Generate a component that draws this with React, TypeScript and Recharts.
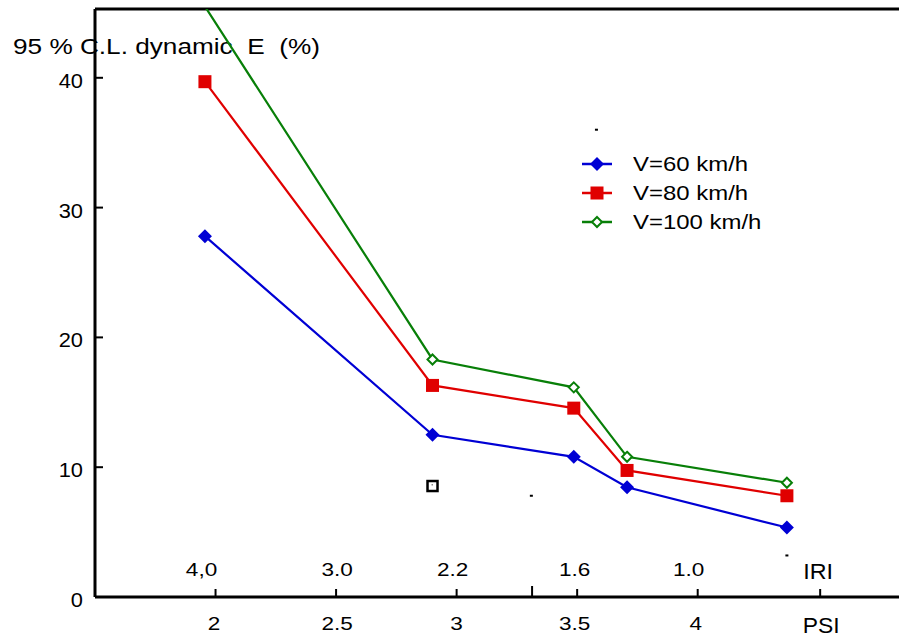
import {
  ComposedChart,
  Line,
  Scatter,
  XAxis,
  YAxis,
  ReferenceLine,
  Legend,
} from "recharts";

// PSI position of each measured point, and the 95 % C.L. dynamic E (%) per speed
const PSI = [1.956, 2.9, 3.486, 3.707, 4.37];
const E_60 = [27.8, 12.5, 10.8, 8.45, 5.35];
const E_80 = [39.7, 16.3, 14.55, 9.75, 7.8];
const E_100 = [45.5, 18.3, 16.15, 10.8, 8.8];

// x axis: PSI ticks below, matching IRI values written above the axis
const PSI_TICKS = [2, 2.5, 3, 3.313, 3.5, 4, 4.508];
const PSI_LABELS = ["2", "2.5", "3", "", "3.5", "4", "PSI"];
const IRI_LABELS = ["4,0", "3.0", "2.2", "", "1.6", "1.0", "IRI"];
const E_TICKS = [0, 10, 20, 30, 40];

// stray marks left in the original scan
const BOX_PSI = [2.9];
const BOX_E = [8.55];
const SPECK_PSI = [3.58, 3.31, 4.37];
const SPECK_E = [36.0, 7.8, 3.2];

const E_MAX = 45.3;
const FONT = "'Liberation Sans', Arial, sans-serif";
const BLUE = "#0000d4";
const RED = "#e00000";
const GREEN = "#087f08";

const IRI_DX = [-14, 1, -4, 0, -2.5, -9, -2];
const PSI_DX = [-1.5, 1, 0, 0, -2.5, -2, 1];

const rows = PSI.map((psi, i) => ({ psi, v60: E_60[i], v80: E_80[i], v100: E_100[i] }));
const boxes = BOX_PSI.map((psi, i) => ({ psi, e: BOX_E[i] }));
const specks = SPECK_PSI.map((psi, i) => ({ psi, e: SPECK_E[i] }));

const series = [
  { key: "v60", name: "V=60 km/h", color: BLUE, marker: "diamond" },
  { key: "v80", name: "V=80 km/h", color: RED, marker: "square" },
  { key: "v100", name: "V=100 km/h", color: GREEN, marker: "open" },
];

function SText({ x, y, size, sx = 1, anchor = "middle", children }: any) {
  return (
    <g transform={`translate(${x},${y}) scale(${sx},1)`}>
      <text
        x={0}
        y={0}
        textAnchor={anchor}
        fontSize={size}
        fontFamily={FONT}
        fill="#000"
        style={{ whiteSpace: "pre" }}
      >
        {children}
      </text>
    </g>
  );
}

function Marker({ kind, cx, cy, color }: any) {
  if (kind === "diamond") {
    const r = 7;
    return <polygon points={`${cx},${cy - r} ${cx + r},${cy} ${cx},${cy + r} ${cx - r},${cy}`} fill={color} />;
  }
  if (kind === "square") {
    return <rect x={cx - 6.5} y={cy - 6.5} width={13} height={13} fill={color} />;
  }
  const r = 5;
  return (
    <polygon
      points={`${cx},${cy - r} ${cx + r},${cy} ${cx},${cy + r} ${cx - r},${cy}`}
      fill="#fff"
      stroke={color}
      strokeWidth={2}
    />
  );
}

function makeDot(kind: string, color: string, key: string) {
  return (p: any) => {
    if (p.payload && p.payload[key] > E_MAX) return <g key={`d-${key}-${p.index}`} />;
    return <Marker key={`d-${key}-${p.index}`} kind={kind} cx={p.cx} cy={p.cy} color={color} />;
  };
}

function XTick({ x, y, payload }: any) {
  const i = PSI_TICKS.indexOf(payload.value);
  const word = PSI_LABELS[i] === "PSI";
  const bare = PSI_LABELS[i] === "";
  return (
    <g>
      <line x1={x} x2={x} y1={y} y2={y - (bare ? 11 : 8)} stroke="#000" strokeWidth={2} />
      {IRI_LABELS[i] && (
        <SText x={x + IRI_DX[i]} y={word ? y - 18 : y - 21} size={word ? 22 : 18.5} sx={word ? 1.06 : 1.22}>
          {IRI_LABELS[i]}
        </SText>
      )}
      {PSI_LABELS[i] && (
        <SText x={x + PSI_DX[i]} y={word ? y + 36 : y + 33} size={word ? 22 : 18.5} sx={word ? 1.04 : 1.22}>
          {PSI_LABELS[i]}
        </SText>
      )}
    </g>
  );
}

function YTick({ x, y, payload }: any) {
  return (
    <g>
      <line x1={x} x2={x + 8} y1={y} y2={y} stroke="#000" strokeWidth={2} />
      <SText x={x - 12} y={y + 10} size={19.5} sx={1.12} anchor="end">
        {payload.value}
      </SText>
    </g>
  );
}

function BoxShape({ cx, cy }: any) {
  return (
    <g>
      <rect x={cx - 5} y={cy - 5} width={10} height={10} fill="#fff" stroke="#000" strokeWidth={2.5} />
      <rect x={cx - 1} y={cy - 2} width={1.5} height={1.5} fill="#888" />
    </g>
  );
}

function SpeckShape({ cx, cy }: any) {
  return <rect x={cx - 1.5} y={cy - 1} width={3} height={2} fill="#000" />;
}

function LegendBox() {
  return (
    <div style={{ fontFamily: FONT, fontSize: 21, color: "#000" }}>
      {series.map((s) => (
        <div key={s.key} style={{ display: "flex", alignItems: "center", height: 29 }}>
          <svg width={34} height={16} style={{ display: "block" }}>
            <line x1={2} x2={32} y1={8} y2={8} stroke={s.color} strokeWidth={2.5} />
            <Marker kind={s.marker} cx={17} cy={8} color={s.color} />
          </svg>
          <span
            style={{
              marginLeft: 19,
              display: "inline-block",
              whiteSpace: "nowrap",
              transform: "scaleX(1.14)",
              transformOrigin: "left center",
            }}
          >
            {s.name}
          </span>
        </div>
      ))}
    </div>
  );
}

export default function App() {
  return (
    <div style={{ position: "absolute", left: 0, top: 0, width: 899, height: 640, background: "#fff" }}>
      <ComposedChart width={899} height={640} data={rows} margin={{ top: 9, right: 0, bottom: 0, left: 0 }}>
        <XAxis
          dataKey="psi"
          type="number"
          domain={[1.5, 4.835]}
          ticks={PSI_TICKS}
          interval={0}
          height={43}
          tickSize={0}
          tickMargin={0}
          tickLine={false}
          axisLine={{ stroke: "#000", strokeWidth: 3 }}
          tick={<XTick />}
          allowDataOverflow
        />
        <YAxis
          type="number"
          domain={[0, E_MAX]}
          ticks={E_TICKS}
          interval={0}
          width={95}
          tickSize={0}
          tickMargin={0}
          tickLine={false}
          axisLine={{ stroke: "#000", strokeWidth: 3 }}
          tick={<YTick />}
          allowDataOverflow
        />
        <ReferenceLine y={E_MAX} stroke="#000" strokeWidth={3} />
        {series.map((s) => (
          <Line
            key={s.key}
            type="linear"
            dataKey={s.key}
            name={s.name}
            stroke={s.color}
            strokeWidth={2.2}
            dot={makeDot(s.marker, s.color, s.key)}
            activeDot={false}
            isAnimationActive={false}
          />
        ))}
        <Scatter data={boxes} dataKey="e" shape={<BoxShape />} legendType="none" isAnimationActive={false} />
        <Scatter data={specks} dataKey="e" shape={<SpeckShape />} legendType="none" isAnimationActive={false} />
        <Legend
          layout="vertical"
          align="center"
          verticalAlign="middle"
          content={<LegendBox />}
          wrapperStyle={{ left: 580, top: 149, width: 240, height: 90 }}
        />
        <SText x={13} y={54} size={22} sx={1.19} anchor="start">
          {"95 % C.L. dynamic  E  (%)"}
        </SText>
      </ComposedChart>
    </div>
  );
}
